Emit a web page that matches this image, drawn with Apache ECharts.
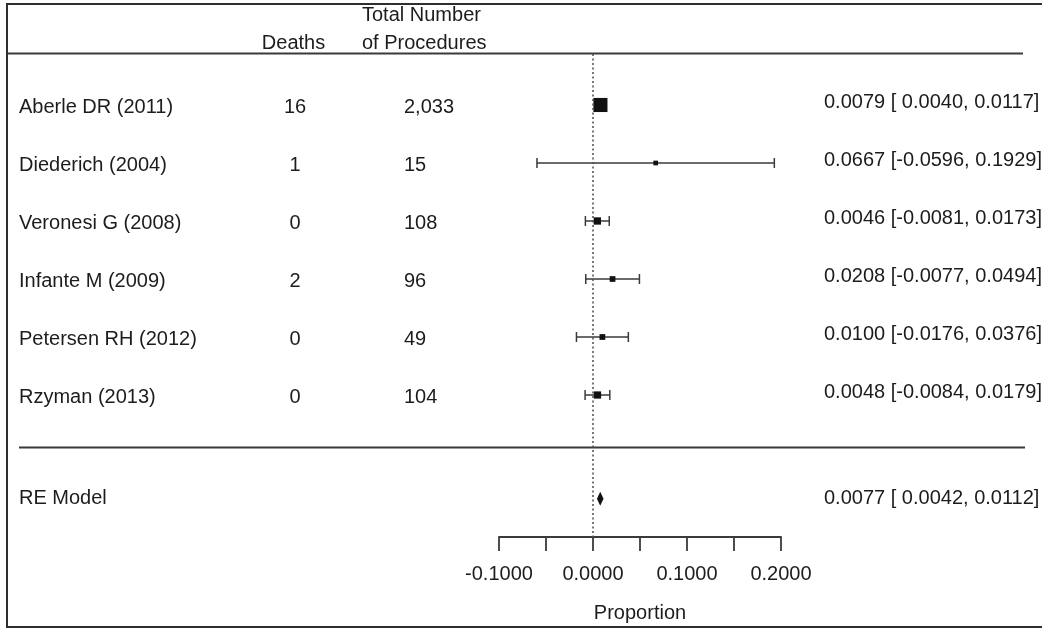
<!DOCTYPE html>
<html>
<head>
<meta charset="utf-8">
<script src="https://cdn.jsdelivr.net/npm/echarts@6/dist/echarts.min.js"></script>
<style>
  html, body { margin: 0; padding: 0; background: #fff; }
  #chart { width: 1042px; height: 630px; }
</style>
</head>
<body>
<div id="chart"></div>
<script>
// Study-level data
const studies    = ['Aberle DR (2011)', 'Diederich (2004)', 'Veronesi G (2008)', 'Infante M (2009)', 'Petersen RH (2012)', 'Rzyman (2013)'];
const deaths     = [16, 1, 0, 2, 0, 0];
const procedures = [2033, 15, 108, 96, 49, 104];
const estimates  = [0.0079, 0.0667, 0.0046, 0.0208, 0.0100, 0.0048];
const ciLower    = [0.0040, -0.0596, -0.0081, -0.0077, -0.0176, -0.0084];
const ciUpper    = [0.0117, 0.1929, 0.0173, 0.0494, 0.0376, 0.0179];

// Pooled random-effects estimate
const summaryLabel = 'RE Model';
const summaryEst   = 0.0077;
const summaryLower = 0.0042;
const summaryUpper = 0.0112;

// Axis
const xTickLabels = [-0.1, 0, 0.1, 0.2];
const xAxisTitle  = 'Proportion';
const headerDeaths = 'Deaths';
const headerProcedures = ['Total Number', 'of Procedures'];

// ---- layout ----
const FONT_FAMILY = '"Liberation Sans", Arial, Helvetica, sans-serif';
const FONT_SIZE = 20;
const TEXT = '#1c1c1c';
const LINE = '#3a3a3a';
const SUMMARY_ROW = 6.79;
const COL_NAME_X = 19;
const COL_DEATHS_X = 295;
const COL_PROC_X = 404;
const COL_EST_X = 824;

// marker size from inverse standard error (1/se), scaled 0.5..1.5
const se = estimates.map((_, i) => (ciUpper[i] - ciLower[i]) / 3.92);
const wi = se.map(s => 1 / s);
const wMin = Math.min(...wi), wMax = Math.max(...wi);
const psize = wi.map(w => 0.5 + (w - wMin) / (wMax - wMin));
const BASE_SIZE = 9.4;

const fmtLow = v => (v < 0 ? '' : ' ') + v.toFixed(4);
const estLabel = (e, lo, hi) => e.toFixed(4) + ' [' + fmtLow(lo) + ', ' + hi.toFixed(4) + ']';

const studyData = studies.map((_, i) => [estimates[i], ciLower[i], ciUpper[i], i, psize[i] * BASE_SIZE]);

const font = FONT_SIZE + 'px ' + FONT_FAMILY;
function txt(x, y, text, align) {
  return { type: 'text', x: x, y: y, style: { text: text, fill: TEXT, font: font, align: align, verticalAlign: 'middle' } };
}

function renderStudy(params, api) {
  const row = api.value(3);
  const y = api.coord([0, row])[1];
  const xe = api.coord([api.value(0), row])[0];
  const xl = api.coord([api.value(1), row])[0];
  const xh = api.coord([api.value(2), row])[0];
  const s = api.value(4);
  const ls = { stroke: LINE, lineWidth: 1.5 };
  return {
    type: 'group',
    children: [
      { type: 'line', shape: { x1: xl, y1: y, x2: xh, y2: y }, style: ls },
      { type: 'line', shape: { x1: xl, y1: y - 5, x2: xl, y2: y + 5 }, style: ls },
      { type: 'line', shape: { x1: xh, y1: y - 5, x2: xh, y2: y + 5 }, style: ls },
      { type: 'rect', shape: { x: xe - s / 2, y: y - s / 2, width: s, height: s }, style: { fill: '#111' } }
    ]
  };
}

function renderStudyText(params, api) {
  const i = params.dataIndex;
  const y = api.coord([0, i])[1];
  return {
    type: 'group',
    children: [
      txt(COL_NAME_X, y + 2, studies[i], 'left'),
      txt(COL_DEATHS_X, y + 2, String(deaths[i]), 'center'),
      txt(COL_PROC_X, y + 2, procedures[i].toLocaleString('en-US'), 'left'),
      txt(COL_EST_X, y - 2.5, estLabel(estimates[i], ciLower[i], ciUpper[i]), 'left')
    ]
  };
}

function renderSummary(params, api) {
  const row = api.value(3);
  const y = api.coord([0, row])[1];
  const xe = api.coord([api.value(0), row])[0];
  const xl = api.coord([api.value(1), row])[0];
  const xh = api.coord([api.value(2), row])[0];
  return {
    type: 'group',
    children: [
      { type: 'polygon', shape: { points: [[xl, y], [xe, y - 7], [xh, y], [xe, y + 7]] }, style: { fill: '#111' } },
      txt(COL_NAME_X, y, summaryLabel, 'left'),
      txt(COL_EST_X, y, estLabel(summaryEst, summaryLower, summaryUpper), 'left')
    ]
  };
}

const chart = echarts.init(document.getElementById('chart'), null, { renderer: 'canvas' });

chart.setOption({
  animation: false,
  backgroundColor: '#fff',
  textStyle: { fontFamily: FONT_FAMILY },
  grid: { left: 499, width: 282, top: 54, height: 483 },
  xAxis: {
    type: 'value',
    min: -0.1, max: 0.2, interval: 0.05,
    splitLine: { show: false },
    axisLine: { onZero: false, lineStyle: { color: LINE, width: 1.8 } },
    axisTick: { length: 14, lineStyle: { color: LINE, width: 1.8 } },
    axisLabel: {
      margin: 27,
      color: TEXT,
      fontSize: FONT_SIZE,
      fontFamily: FONT_FAMILY,
      formatter: v => xTickLabels.some(t => Math.abs(t - v) < 1e-9) ? v.toFixed(4) : ''
    },
    name: xAxisTitle,
    nameLocation: 'middle',
    nameGap: 66,
    nameTextStyle: { color: TEXT, fontSize: FONT_SIZE, fontFamily: FONT_FAMILY }
  },
  yAxis: {
    type: 'value', min: -0.879, max: 7.448, inverse: true, show: false
  },
  graphic: [
    { type: 'rect', silent: true, shape: { x: 7, y: 4, width: 1100, height: 623 }, style: { fill: 'none', stroke: '#2e2e2e', lineWidth: 2 } },
    { type: 'line', silent: true, shape: { x1: 7, y1: 53.5, x2: 1023, y2: 53.5 }, style: { stroke: LINE, lineWidth: 2 } },
    { type: 'line', silent: true, shape: { x1: 19, y1: 447.5, x2: 1025, y2: 447.5 }, style: { stroke: LINE, lineWidth: 2 } },
    { type: 'text', silent: true, x: 293.5, y: 43.5, style: { text: headerDeaths, fill: TEXT, font: font, align: 'center', verticalAlign: 'middle' } },
    { type: 'text', silent: true, x: 362, y: 15.5, style: { text: headerProcedures[0], fill: TEXT, font: font, align: 'left', verticalAlign: 'middle' } },
    { type: 'text', silent: true, x: 362, y: 43.5, style: { text: headerProcedures[1], fill: TEXT, font: font, align: 'left', verticalAlign: 'middle' } }
  ],
  series: [
    {
      type: 'custom',
      name: 'studies',
      clip: false,
      renderItem: renderStudy,
      data: studyData,
      z: 3,
      markLine: {
        silent: true,
        symbol: ['none', 'none'],
        label: { show: false },
        lineStyle: { color: '#555', width: 1.6, type: [2, 2.5] },
        data: [{ xAxis: 0 }]
      }
    },
    {
      type: 'custom',
      name: 'study labels',
      clip: false,
      renderItem: renderStudyText,
      data: studyData
    },
    {
      type: 'custom',
      name: 'summary',
      clip: false,
      renderItem: renderSummary,
      data: [[summaryEst, summaryLower, summaryUpper, SUMMARY_ROW]],
      z: 3
    }
  ]
});
</script>
</body>
</html>
